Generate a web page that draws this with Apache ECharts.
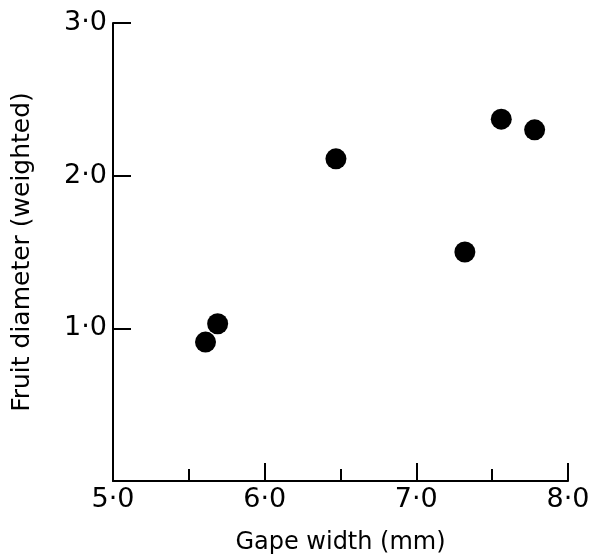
<!DOCTYPE html>
<html>
<head>
<meta charset="utf-8">
<script src="https://cdn.jsdelivr.net/npm/echarts@6/dist/echarts.min.js"></script>
<style>
  html, body { margin: 0; padding: 0; background: #fff; }
  #chart { width: 590px; height: 556px; }
</style>
</head>
<body>
<div id="chart"></div>
<script>
// gape width (mm) vs weighted fruit diameter
var gapeWidth = [5.61, 5.69, 6.47, 7.32, 7.56, 7.78];
var fruitDiameter = [0.91, 1.03, 2.11, 1.50, 2.37, 2.30];

var points = gapeWidth.map(function (x, i) { return [x, fruitDiameter[i]]; });

function dotLabel(v) {
  return v.toFixed(1).replace('.', '·');
}

var font = 'DejaVu Sans';
var chart = echarts.init(document.getElementById('chart'));
chart.setOption({
  animation: false,
  backgroundColor: '#fff',
  grid: { left: 113, right: 22, top: 23, bottom: 75, outerBoundsMode: 'none' },
  xAxis: {
    type: 'value',
    min: 5, max: 8, interval: 1,
    name: 'Gape width (mm)',
    nameLocation: 'middle',
    nameGap: 50,
    nameTextStyle: { fontFamily: font, fontSize: 24, color: '#000' },
    axisLine: { lineStyle: { color: '#000', width: 2 } },
    axisTick: { inside: true, length: 18, lineStyle: { color: '#000', width: 2 } },
    minorTick: { show: true, splitNumber: 2, length: 12, lineStyle: { color: '#000', width: 2 } },
    axisLabel: { formatter: dotLabel, fontFamily: font, fontSize: 27, color: '#000', margin: 5 },
    splitLine: { show: false }
  },
  yAxis: {
    type: 'value',
    min: 0, max: 3, interval: 1,
    name: 'Fruit diameter (weighted)',
    nameLocation: 'middle',
    nameGap: 78,
    nameTextStyle: { fontFamily: font, fontSize: 25, color: '#000' },
    axisLine: { lineStyle: { color: '#000', width: 2 } },
    axisTick: { inside: true, length: 18, lineStyle: { color: '#000', width: 2 } },
    axisLabel: {
      formatter: function (v) { return v === 0 ? '' : dotLabel(v); },
      fontFamily: font, fontSize: 27, color: '#000', margin: 6
    },
    splitLine: { show: false }
  },
  series: [{
    type: 'scatter',
    data: points,
    symbolSize: 21,
    itemStyle: { color: '#000', opacity: 1 }
  }]
});
</script>
</body>
</html>
